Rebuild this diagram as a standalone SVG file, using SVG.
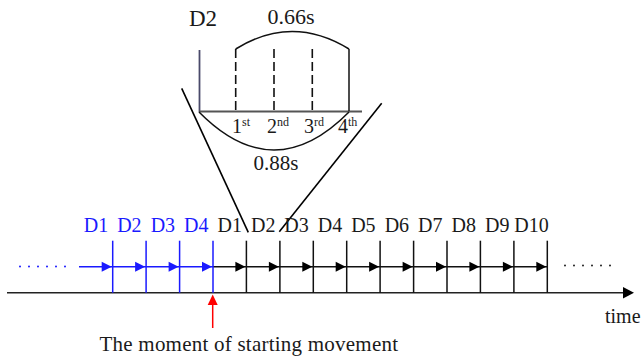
<svg xmlns="http://www.w3.org/2000/svg" width="644" height="356" viewBox="0 0 644 356">
<style>
text{font-family:"Liberation Serif","Times New Roman",serif;font-size:20px;fill:#1a1a1a}
.b{fill:#1a1aff}
.sup{font-size:12px}
.blk{stroke:#111;stroke-width:1.5;fill:none}
.blu{stroke:#1a1aff;stroke-width:1.5;fill:none}
.dash{stroke:#111;stroke-width:1.6;stroke-dasharray:9 4;fill:none}
.tb{fill:#1a1aff}
.tk{fill:#000}
.lg{font-size:22px}
</style>
<defs>
<polygon id="tri" points="-10,-5 0,0 -10,5"/>
</defs>
<rect width="644" height="356" fill="#fff"/>

<g id="inset">
<text x="189" y="26" style="font-size:23px">D2</text>
<text class="lg" x="291" y="24" text-anchor="middle">0.66s</text>
<line x1="199.5" y1="50" x2="199.5" y2="112" stroke="#4a4a6a" stroke-width="1.8"/>
<line x1="199" y1="111.5" x2="362" y2="111.5" stroke="#555" stroke-width="2"/>
<line class="dash" x1="235.7" y1="49" x2="235.7" y2="111"/>
<line class="dash" x1="274" y1="49" x2="274" y2="111"/>
<line class="dash" x1="312.3" y1="49" x2="312.3" y2="111"/>
<line class="blk" x1="349" y1="49" x2="349" y2="111"/>
<path class="blk" d="M235.7,49 Q292,14 349,49"/>
<path class="blk" d="M199,112 Q274,188 349,112"/>
<text x="232" y="133">1<tspan class="sup" dy="-7">st</tspan></text>
<text x="267" y="133">2<tspan class="sup" dy="-7">nd</tspan></text>
<text x="304" y="133">3<tspan class="sup" dy="-7">rd</tspan></text>
<text x="338" y="133">4<tspan class="sup" dy="-7">th</tspan></text>
<text x="276" y="170" text-anchor="middle" style="font-size:21px">0.88s</text>
</g>

<g id="connectors">
<line x1="181.7" y1="88.3" x2="248.3" y2="232.3" stroke="#000" stroke-width="1.6"/>
<line x1="381.7" y1="103.3" x2="279.3" y2="231.7" stroke="#000" stroke-width="1.6"/>
</g>

<g id="timeline">
<line x1="7" y1="292.7" x2="624" y2="292.7" stroke="#222" stroke-width="1.6"/>
<polygon points="623,287 634,292.7 623,298.4" fill="#000"/>
<line x1="20" y1="266.5" x2="66" y2="266.5" stroke="#1a1aff" stroke-width="2" stroke-linecap="round" stroke-dasharray="0 9"/>
<line x1="565" y1="265.5" x2="611" y2="265.5" stroke="#222" stroke-width="2" stroke-linecap="round" stroke-dasharray="0 9"/>
<line class="blu" x1="79" y1="266.7" x2="213" y2="266.7"/>
<line class="blk" x1="213" y1="266.7" x2="547.3" y2="266.7"/>
<g class="blu">
<line x1="112.7" y1="240.7" x2="112.7" y2="292.7"/>
<line x1="146.1" y1="240.7" x2="146.1" y2="292.7"/>
<line x1="179.6" y1="240.7" x2="179.6" y2="292.7"/>
<line x1="213" y1="240.7" x2="213" y2="292.7"/>
</g>
<g class="blk">
<line x1="246.4" y1="240.7" x2="246.4" y2="292.7"/>
<line x1="279.9" y1="240.7" x2="279.9" y2="292.7"/>
<line x1="313.3" y1="240.7" x2="313.3" y2="292.7"/>
<line x1="346.7" y1="240.7" x2="346.7" y2="292.7"/>
<line x1="380.1" y1="240.7" x2="380.1" y2="292.7"/>
<line x1="413.6" y1="240.7" x2="413.6" y2="292.7"/>
<line x1="447" y1="240.7" x2="447" y2="292.7"/>
<line x1="480.4" y1="240.7" x2="480.4" y2="292.7"/>
<line x1="513.9" y1="240.7" x2="513.9" y2="292.7"/>
<line x1="547.3" y1="240.7" x2="547.3" y2="292.7"/>
</g>
<use href="#tri" x="111.7" y="266.7" class="tb"/>
<use href="#tri" x="145.1" y="266.7" class="tb"/>
<use href="#tri" x="178.6" y="266.7" class="tb"/>
<use href="#tri" x="212" y="266.7" class="tb"/>
<use href="#tri" x="245.4" y="266.7" class="tk"/>
<use href="#tri" x="278.9" y="266.7" class="tk"/>
<use href="#tri" x="312.3" y="266.7" class="tk"/>
<use href="#tri" x="345.7" y="266.7" class="tk"/>
<use href="#tri" x="379.1" y="266.7" class="tk"/>
<use href="#tri" x="412.6" y="266.7" class="tk"/>
<use href="#tri" x="446" y="266.7" class="tk"/>
<use href="#tri" x="479.4" y="266.7" class="tk"/>
<use href="#tri" x="512.9" y="266.7" class="tk"/>
<use href="#tri" x="546.3" y="266.7" class="tk"/>
<g text-anchor="middle">
<text class="b" x="96" y="231.5">D1</text>
<text class="b" x="129.4" y="231.5">D2</text>
<text class="b" x="162.9" y="231.5">D3</text>
<text class="b" x="196.3" y="231.5">D4</text>
<text x="229.7" y="231.5">D1</text>
<text x="263.2" y="231.5">D2</text>
<text x="296.6" y="231.5">D3</text>
<text x="330" y="231.5">D4</text>
<text x="363.4" y="231.5">D5</text>
<text x="396.9" y="231.5">D6</text>
<text x="430.3" y="231.5">D7</text>
<text x="463.7" y="231.5">D8</text>
<text x="497.2" y="231.5">D9</text>
<text x="531.6" y="231.5">D10</text>
</g>
<text x="605" y="322.5">time</text>
</g>

<g id="start">
<line x1="212.7" y1="304" x2="212.7" y2="328" stroke="#ff0000" stroke-width="1.5"/>
<polygon points="207.7,305 212.7,294.5 217.7,305" fill="#ff0000"/>
<text x="99.5" y="350.5" style="font-size:21px" textLength="298.5" lengthAdjust="spacing">The moment of starting movement</text>
</g>
</svg>
